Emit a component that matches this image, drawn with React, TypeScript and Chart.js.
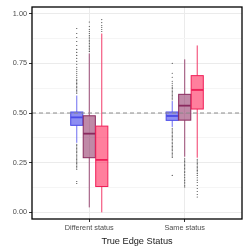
import { useEffect, useRef } from "react";
import { Chart, registerables } from "chart.js";

Chart.register(...registerables);

const categories = ["Different status", "Same status"];
const yTickValues = [0, 0.125, 0.25, 0.375, 0.5, 0.625, 0.75, 0.875, 1];
const yMajorTicks = [0, 0.25, 0.5, 0.75, 1];
const referenceLine = 0.5;
const xTitle = "True Edge Status";

// [lower whisker, Q1, median, Q3, upper whisker] per category
const blueStats = [
  [0.35, 0.438, 0.478, 0.505, 0.588],
  [0.43, 0.463, 0.485, 0.505, 0.56],
];
const purpleStats = [
  [0.025, 0.275, 0.396, 0.486, 0.8],
  [0.28, 0.464, 0.537, 0.594, 0.77],
];
const pinkStats = [
  [0.0, 0.13, 0.264, 0.434, 0.9],
  [0.275, 0.52, 0.616, 0.688, 0.84],
];

// outliers per category
const blueOutliers = [
  [0.145, 0.155, 0.217, 0.224, 0.231, 0.238, 0.245, 0.252, 0.259, 0.266, 0.273, 0.28, 0.287, 0.294, 0.301, 0.308, 0.315, 0.322, 0.329, 0.336, 0.343,
   0.6, 0.607, 0.614, 0.621, 0.628, 0.635, 0.642, 0.649, 0.656, 0.663, 0.67, 0.68, 0.69, 0.7, 0.71, 0.72, 0.73, 0.745, 0.76, 0.775, 0.79, 0.805, 0.82, 0.84, 0.86, 0.88, 0.9, 0.925],
  [0.186, 0.276, 0.283, 0.29, 0.297, 0.304, 0.311, 0.318, 0.325, 0.332, 0.339, 0.346, 0.353, 0.36, 0.367, 0.374, 0.381, 0.388, 0.395, 0.402, 0.409, 0.416, 0.423,
   0.567, 0.574, 0.581, 0.588, 0.595, 0.602, 0.609, 0.616, 0.623, 0.63, 0.64, 0.65, 0.66, 0.68, 0.7, 0.75],
];
const purpleOutliers = [
  [0.81, 0.818, 0.826, 0.834, 0.842, 0.85, 0.858, 0.866, 0.874, 0.882, 0.89, 0.9, 0.91, 0.92, 0.935, 0.958],
  [0.128, 0.136, 0.144, 0.152, 0.16, 0.168, 0.176, 0.184, 0.192, 0.2, 0.207, 0.214, 0.221, 0.228, 0.235, 0.242, 0.249, 0.256, 0.263, 0.27],
];
const pinkOutliers = [
  [0.91, 0.92, 0.93, 0.94, 0.955, 0.97],
  [0.077, 0.09, 0.105, 0.12, 0.135, 0.15, 0.162, 0.174, 0.186, 0.196, 0.204, 0.211, 0.218, 0.225, 0.232, 0.239, 0.246, 0.253, 0.26, 0.267],
];

const groups = [
  { stats: blueStats, outliers: blueOutliers, fill: "rgba(30,30,230,0.5)", stroke: "#4a4ae8", whisker: "#6c6cf0" },
  { stats: purpleStats, outliers: purpleOutliers, fill: "rgba(130,20,80,0.5)", stroke: "#8a2a5e", whisker: "#9a4a74" },
  { stats: pinkStats, outliers: pinkOutliers, fill: "rgba(255,0,60,0.5)", stroke: "#f01e58", whisker: "#f23a68" },
];

const DODGE = 0.131;
const BOX_W = 0.127;
const FONT = "'Liberation Sans', Arial, sans-serif";

export default function App() {
  const ref = useRef<HTMLCanvasElement | null>(null);

  useEffect(() => {
    document.body.style.margin = "0";
    const canvas = ref.current;
    if (!canvas) return;

    const boxPlugin = {
      id: "boxes",
      beforeDatasetsDraw(chart: any) {
        const { ctx, scales } = chart;
        const xs = scales.x;
        const ys = scales.y;
        ctx.save();
        groups.forEach((g, gi) => {
          const off = (gi - 1) * DODGE;
          g.stats.forEach((s, ci) => {
            const cx = xs.getPixelForValue(ci + 1 + off);
            const half = (xs.getPixelForValue(BOX_W) - xs.getPixelForValue(0)) / 2;
            const [lw, q1, med, q3, uw] = s.map((v: number) => ys.getPixelForValue(v));
            ctx.strokeStyle = g.whisker;
            ctx.lineWidth = 1;
            ctx.beginPath();
            ctx.moveTo(cx, lw);
            ctx.lineTo(cx, q1);
            ctx.moveTo(cx, q3);
            ctx.lineTo(cx, uw);
            ctx.stroke();
            ctx.strokeStyle = g.stroke;
            ctx.fillStyle = g.fill;
            ctx.fillRect(cx - half, q3, half * 2, q1 - q3);
            ctx.strokeRect(cx - half, q3, half * 2, q1 - q3);
            ctx.lineWidth = 1.8;
            ctx.beginPath();
            ctx.moveTo(cx - half, med);
            ctx.lineTo(cx + half, med);
            ctx.stroke();
          });
        });
        ctx.restore();
      },
      afterDatasetsDraw(chart: any) {
        const { ctx, scales, chartArea } = chart;
        const y = scales.y.getPixelForValue(referenceLine);
        ctx.save();
        ctx.strokeStyle = "#8c8c8c";
        ctx.lineWidth = 1;
        ctx.setLineDash([4, 3]);
        ctx.beginPath();
        ctx.moveTo(chartArea.left, y);
        ctx.lineTo(chartArea.right, y);
        ctx.stroke();
        ctx.restore();
      },
      afterDraw(chart: any) {
        const { ctx, chartArea } = chart;
        ctx.save();
        ctx.strokeStyle = "#000";
        ctx.lineWidth = 1.3;
        ctx.strokeRect(chartArea.left, chartArea.top, chartArea.right - chartArea.left, chartArea.bottom - chartArea.top);
        ctx.restore();
      },
    };

    const datasets = groups.map((g, gi) => ({
      type: "scatter" as const,
      data: g.outliers.flatMap((arr, ci) => arr.map((v) => ({ x: ci + 1 + (gi - 1) * DODGE, y: v }))),
      pointRadius: 0.55,
      pointBackgroundColor: "#333",
      pointBorderWidth: 0,
    }));

    const chart = new Chart(canvas, {
      type: "scatter",
      data: { datasets },
      options: {
        responsive: false,
        animation: false,
        layout: { padding: { left: 0, right: 6, top: 7, bottom: 0 } },
        plugins: { legend: { display: false }, tooltip: { enabled: false } },
        scales: {
          x: {
            type: "linear",
            min: 0.4,
            max: 2.6,
            afterBuildTicks: (scale: any) => {
              scale.ticks = categories.map((_, i) => ({ value: i + 1 }));
            },
            afterFit: (scale: any) => {
              scale.height = 29;
            },
            ticks: {
              autoSkip: false,
              maxRotation: 0,
              padding: 2,
              color: "#4d4d4d",
              font: { family: FONT, size: 7.3 },
              callback: (v: any) => categories[Math.round(Number(v)) - 1] ?? "",
            },
            grid: { color: "#ebebeb", lineWidth: 1, tickLength: 3, tickColor: "#333" },
            border: { display: false },
            title: {
              display: true,
              text: xTitle,
              color: "#1a1a1a",
              font: { family: FONT, size: 9.2 },
              padding: { top: 0, bottom: 1 },
            },
          },
          y: {
            type: "linear",
            min: -0.0335,
            max: 1.0335,
            afterBuildTicks: (scale: any) => {
              scale.ticks = yTickValues.map((v) => ({ value: v }));
            },
            afterFit: (scale: any) => {
              scale.width = 32;
            },
            ticks: {
              autoSkip: false,
              padding: 2,
              color: "#4d4d4d",
              font: { family: FONT, size: 7.3 },
              callback: (v: any) => (yMajorTicks.includes(Number(v)) ? Number(v).toFixed(2) : ""),
            },
            grid: {
              color: (c: any) => (yMajorTicks.includes(c.tick?.value) ? "#ebebeb" : "#f5f5f5"),
              lineWidth: 1,
              tickLength: 3,
              tickColor: (c: any) => (yMajorTicks.includes(c.tick?.value) ? "#333" : "rgba(0,0,0,0)"),
            },
            border: { display: false },
          },
        },
      },
      plugins: [boxPlugin],
    });

    return () => chart.destroy();
  }, []);

  return (
    <div style={{ width: 248, height: 248 }}>
      <canvas ref={ref} width={248} height={248} />
    </div>
  );
}
